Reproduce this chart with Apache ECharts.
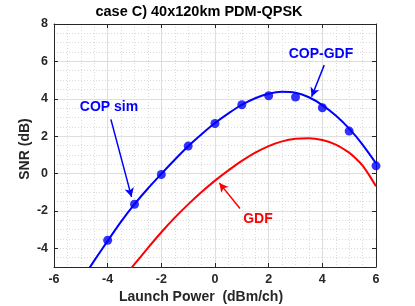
<!DOCTYPE html>
<html>
<head>
<meta charset="utf-8">
<script src="https://cdn.jsdelivr.net/npm/echarts@6/dist/echarts.min.js"></script>
<style>
html,body{margin:0;padding:0;background:#fff;}
#chart{width:415px;height:306px;}
</style>
</head>
<body>
<div id="chart"></div>
<script>
// ---- data ----
const simX = [-4, -3, -2, -1, 0, 1, 2, 3, 4, 5, 6];
const simY = [-3.57, -1.64, -0.05, 1.47, 2.68, 3.68, 4.16, 4.09, 3.52, 2.27, 0.41];

const copGdfX = [-4.75, -4.5, -4, -3.5, -3, -2.5, -2, -1.5, -1, -0.5, 0, 0.5, 1, 1.5, 2, 2.5, 3, 3.5, 4, 4.5, 5, 5.5, 6];
const copGdfY = [-5.2, -4.66, -3.6, -2.57, -1.64, -0.8, -0.02, 0.74, 1.46, 2.1, 2.7, 3.22, 3.68, 4.03, 4.27, 4.37, 4.32, 4.08, 3.66, 3.1, 2.4, 1.55, 0.55];

const gdfX = [-3.2, -3, -2.5, -2, -1.5, -1, -0.5, 0, 0.5, 1, 1.5, 2, 2.5, 3, 3.5, 4, 4.5, 5, 5.25, 5.5, 5.75, 6];
const gdfY = [-5.2, -4.85, -3.98, -3.14, -2.36, -1.65, -0.99, -0.38, 0.17, 0.68, 1.12, 1.47, 1.72, 1.86, 1.89, 1.79, 1.55, 1.12, 0.8, 0.42, -0.1, -0.68];

const xTicks = [-6, -4, -2, 0, 2, 4, 6];
const yTicks = [-4, -2, 0, 2, 4, 6, 8];

const titleText = 'case C) 40x120km PDM-QPSK';
const xName = 'Launch Power  (dBm/ch)';
const yName = 'SNR (dB)';

// annotation arrows (data coords): [start, end]
const arrowCopGdf = [[4.07, 5.80], [3.60, 4.11]];
const arrowCopSim = [[-3.88, 2.90], [-3.11, -1.25]];
const arrowGdf = [[0.93, -1.87], [0.16, -0.50]];

// ---- chart ----
const zip = (xs, ys) => xs.map((x, i) => [x, ys[i]]);
const FONT = '"Liberation Sans", Arial, Helvetica, sans-serif';
const AX = '#262626';
const MAJ = '#dedede';
const MIN = '#dadada';

const chart = echarts.init(document.getElementById('chart'), null, {renderer: 'canvas'});

function arrowLine(pts, color) {
  return {
    silent: true,
    symbol: ['none', 'arrow'],
    symbolSize: [7, 9],
    label: {show: false},
    lineStyle: {color: color, width: 1.5, type: 'solid'},
    emphasis: {disabled: true},
    data: [[{coord: pts[0]}, {coord: pts[1]}]]
  };
}

function txt(x, y, text, color, size) {
  return {type: 'text', x: x, y: y, z: 100, zlevel: 0, silent: true,
    style: {text: text, fill: color, font: 'bold ' + size + 'px ' + FONT, textAlign: 'center', textVerticalAlign: 'middle'}};
}

const option = {
  animation: false,
  backgroundColor: '#fff',
  grid: {left: 54, right: 39, top: 24, bottom: 39, containLabel: false},
  xAxis: [
    { // main bottom axis
      type: 'value', min: -6, max: 6, interval: 2, position: 'bottom',
      axisLine: {show: true, onZero: false, lineStyle: {color: AX, width: 1}},
      axisTick: {show: true, inside: true, length: 4, lineStyle: {color: AX}},
      axisLabel: {show: true, color: AX, fontFamily: FONT, fontWeight: 'bold', fontSize: 12.5, margin: 6,
                  customValues: xTicks},
      splitLine: {show: true, lineStyle: {color: MAJ, width: 1}},
      z: 3
    },
    { // minor grid
      type: 'value', min: -6, max: 6, interval: 0.5, position: 'bottom',
      axisLine: {show: false}, axisTick: {show: false}, axisLabel: {show: false},
      splitLine: {show: true, lineStyle: {color: MIN, width: 1, type: [1, 2]}},
      z: 1
    },
    { // top box axis
      type: 'value', min: -6, max: 6, interval: 2, position: 'top',
      axisLine: {show: true, onZero: false, lineStyle: {color: AX, width: 1}},
      axisTick: {show: true, inside: true, length: 4, lineStyle: {color: AX}},
      axisLabel: {show: false}, splitLine: {show: false},
      z: 3
    }
  ],
  yAxis: [
    { // main left axis
      type: 'value', min: -5, max: 8, interval: 1, position: 'left',
      axisLine: {show: true, onZero: false, lineStyle: {color: AX, width: 1}},
      axisTick: {show: true, inside: true, length: 4, lineStyle: {color: AX}, customValues: yTicks},
      axisLabel: {show: true, color: AX, fontFamily: FONT, fontWeight: 'bold', fontSize: 12.5, margin: 6,
                  customValues: yTicks},
      splitLine: {show: true, showMinLine: false, lineStyle: {color: MAJ, width: 1}},
      z: 3
    },
    { // minor grid
      type: 'value', min: -5, max: 8, interval: 0.5, position: 'left',
      axisLine: {show: false}, axisTick: {show: false}, axisLabel: {show: false},
      splitLine: {show: true, lineStyle: {color: MIN, width: 1, type: [1, 2]}},
      z: 1
    },
    { // right box axis
      type: 'value', min: -5, max: 8, interval: 1, position: 'right',
      axisLine: {show: true, onZero: false, lineStyle: {color: AX, width: 1}},
      axisTick: {show: true, inside: true, length: 4, lineStyle: {color: AX}, customValues: yTicks},
      axisLabel: {show: false}, splitLine: {show: false},
      z: 3
    }
  ],
  series: [
    {
      name: 'GDF', type: 'line', xAxisIndex: 0, yAxisIndex: 0,
      data: zip(gdfX, gdfY), smooth: 0.15, showSymbol: false, symbol: 'none',
      lineStyle: {color: '#ff0000', width: 2, join: 'round'}, clip: true, z: 4,
      markLine: arrowLine(arrowGdf, '#ff0000')
    },
    {
      name: 'COP-GDF', type: 'line', xAxisIndex: 0, yAxisIndex: 0,
      data: zip(copGdfX, copGdfY), smooth: 0.15, showSymbol: false, symbol: 'none',
      lineStyle: {color: '#0000ff', width: 2, join: 'round'}, clip: true, z: 4,
      markLine: arrowLine(arrowCopGdf, '#0000ff')
    },
    {
      name: 'COP sim', type: 'scatter', xAxisIndex: 0, yAxisIndex: 0,
      data: zip(simX, simY), symbol: 'circle', symbolSize: 9,
      itemStyle: {color: '#0000ff'}, z: 5,
      markLine: arrowLine(arrowCopSim, '#0000ff')
    }
  ],
  graphic: {
    elements: [
      txt(199, 12, titleText, '#000', 14.5),
      txt(201, 297, xName, AX, 14),
      Object.assign(txt(25, 149, yName, AX, 14), {rotation: Math.PI / 2}),
      txt(321, 54, 'COP-GDF', '#0000ff', 14),
      txt(109, 107, 'COP sim', '#0000ff', 14),
      txt(258, 219, 'GDF', '#ff0000', 14)
    ]
  }
};
chart.setOption(option);
</script>
</body>
</html>
